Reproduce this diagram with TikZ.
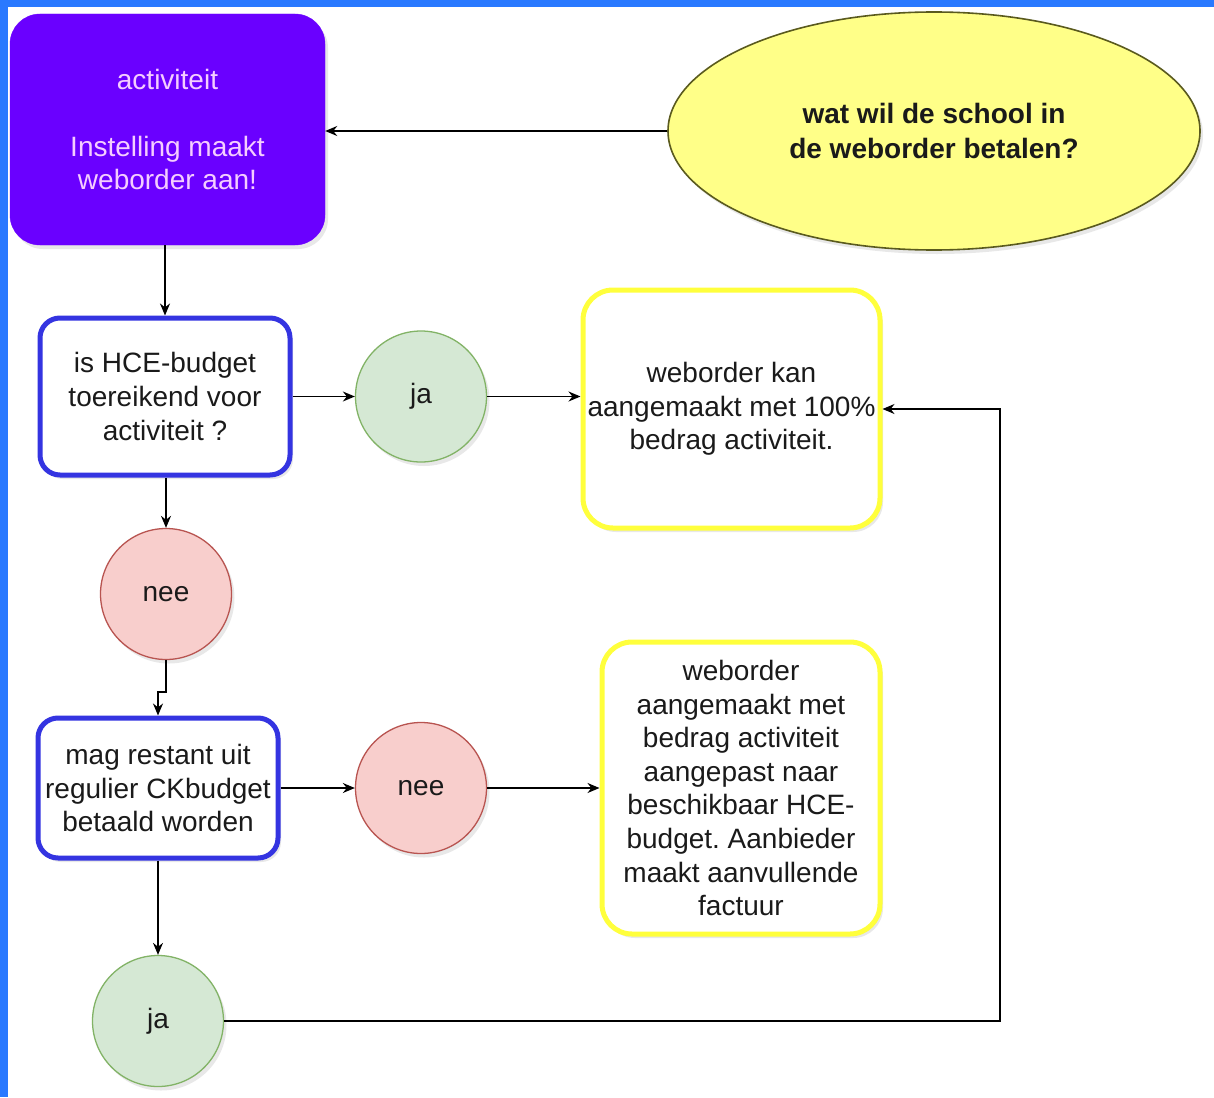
\documentclass[tikz,border=0pt]{standalone}
\usepackage{fontspec}
\setmainfont{Liberation Sans}
\usetikzlibrary{arrows.meta,shadows,shapes.geometric}
\definecolor{framebl}{RGB}{41,121,255}
\definecolor{purp}{RGB}{106,0,255}
\definecolor{purptxt}{RGB}{245,205,255}
\definecolor{ellfill}{RGB}{255,255,136}
\definecolor{elldraw}{RGB}{90,90,30}
\definecolor{boxblue}{RGB}{52,52,225}
\definecolor{boxyel}{RGB}{255,255,60}
\definecolor{gfill}{RGB}{213,232,212}
\definecolor{gdraw}{RGB}{130,179,102}
\definecolor{rfill}{RGB}{248,206,204}
\definecolor{rdraw}{RGB}{184,84,80}
\definecolor{txt}{RGB}{26,26,26}
\frenchspacing
\tikzset{
  shad/.style={drop shadow={opacity=0.18,shadow xshift=3pt,shadow yshift=-4pt}},
  basetxt/.style={font=\fontsize{28}{33.6}\selectfont, text=txt, align=center, inner sep=0pt},
  purpbox/.style={basetxt, rounded corners=30pt, fill=purp, draw=purp, text=purptxt,
     minimum width=315pt, minimum height=231pt, shad},
  bluebox/.style={basetxt, rounded corners=20pt, fill=white, draw=boxblue, line width=5pt, shad},
  yelbox/.style={basetxt, rounded corners=30pt, fill=white, draw=boxyel, line width=5pt, shad},
  jacirc/.style={basetxt, circle, minimum size=131pt, fill=gfill, draw=gdraw, line width=1.3pt, shad},
  neecirc/.style={basetxt, circle, minimum size=131pt, fill=rfill, draw=rdraw, line width=1.3pt, shad},
  arr/.style={draw=black, line width=1.4pt, -{Stealth[length=12pt,width=10pt]}},
}
\begin{document}
\begin{tikzpicture}[x=1pt,y=-1pt]
\useasboundingbox (0,0) rectangle (1214,1097);
\fill[white] (0,0) rectangle (1214,1097);
\fill[framebl] (0,0) rectangle (1214,7.5);
\fill[framebl] (0,0) rectangle (7.5,1097);

\node[purpbox] (act) at (167.5,129.5) {activiteit\\[33.6pt]Instelling maakt\\weborder aan!};
\node[basetxt, ellipse, minimum width=532pt, minimum height=238pt, fill=ellfill, draw=elldraw,
      line width=1.6pt, shad, font=\bfseries\fontsize{28}{35}\selectfont] (ell) at (934,131)
      {wat wil de school in\\de weborder betalen?};

\node[bluebox, minimum width=250pt, minimum height=157pt] (q1) at (165,396.5)
      {is HCE-budget\\toereikend voor\\activiteit ?};
\node[jacirc] (ja1) at (421,396.5) {ja};
\node[yelbox, minimum width=297pt, minimum height=238pt] (y1) at (731.5,409)
      {weborder kan\\aangemaakt met 100\%\\bedrag activiteit.};

\node[neecirc] (nee1) at (166,594) {nee};

\node[bluebox, minimum width=240pt, minimum height=140pt] (q2) at (158,788)
      {mag restant uit\\regulier CKbudget\\betaald worden};
\node[neecirc] (nee2) at (421,788) {nee};
\node[yelbox, minimum width=278pt, minimum height=292pt] (y2) at (741,788)
      {weborder\\aangemaakt met\\bedrag activiteit\\aangepast naar\\beschikbaar HCE-\\budget. Aanbieder\\maakt aanvullende\\factuur};

\node[jacirc] (ja2) at (158,1021) {ja};

\coordinate (turn) at (1000,1021);

\draw[arr] (ell.west) -- (act.east |- ell.west);
\draw[arr] (act.south -| q1.north) -- (q1.north);
\draw[arr] (q1.east) -- (ja1.west);
\draw[arr] (ja1.east) -- (ja1.east -| y1.west);
\draw[arr] (q1.south -| nee1.north) -- (nee1.north);
\draw[arr] (nee1.south) -- ++(0,32) -| (q2.north);
\draw[arr] (q2.east) -- (nee2.west);
\draw[arr] (nee2.east) -- (nee2.east -| y2.west);
\draw[arr] (q2.south) -- (ja2.north);
\draw[arr] (ja2.east) -- (turn) |- (y1.east);
\end{tikzpicture}
\end{document}
